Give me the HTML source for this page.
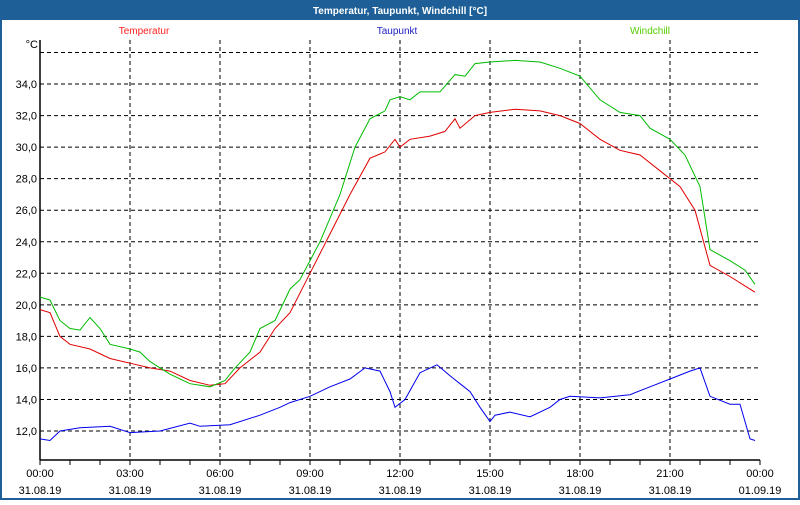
<!DOCTYPE html>
<html><head><meta charset="utf-8"><style>
html,body{margin:0;padding:0;background:#fff;}
body{width:800px;height:500px;overflow:hidden;font-family:"Liberation Sans","DejaVu Sans",sans-serif;}
</style></head><body>
<svg id="s" width="800" height="500" xmlns="http://www.w3.org/2000/svg" font-family="Liberation Sans, DejaVu Sans, sans-serif">
<rect x="0" y="0" width="800" height="500" fill="#1d5f96"/>
<rect x="2" y="20" width="796" height="478" fill="#fff"/>
<text x="400" y="14" fill="#fff" font-size="10" font-weight="bold" text-anchor="middle">Temperatur, Taupunkt, Windchill [°C]</text>
<text x="144" y="34" fill="#ff2020" font-size="10" text-anchor="middle">Temperatur</text>
<text x="397" y="34" fill="#2020c0" font-size="10" text-anchor="middle">Taupunkt</text>
<text x="650" y="34" fill="#55cc00" font-size="10" text-anchor="middle">Windchill</text>
<text x="38" y="48" fill="#000" font-size="11" text-anchor="end">°C</text>
<g id="g"></g>
</svg>
<script>
var g=document.getElementById('g'),h='';
function Y(v){return 431-(v-12)*15.77;}
for(var v=12;v<=36;v+=2){var y=Y(v);h+='<line x1="40" y1="'+y+'" x2="760" y2="'+y+'" stroke="#000" stroke-dasharray="4,3"/>';
if(v<36)h+='<text x="37" y="'+(y+4)+'" font-size="11" text-anchor="end">'+v+',0</text>';}
var lab=['00:00','03:00','06:00','09:00','12:00','15:00','18:00','21:00','00:00'];
for(var i=0;i<=24;i++){var x=40+i*30;h+='<line x1="'+x+'" y1="460" x2="'+x+'" y2="465" stroke="#000"/>';
if(i%3==0){var k=i/3;if(i>0&&i<24)h+='<line x1="'+x+'" y1="40" x2="'+x+'" y2="460" stroke="#000" stroke-dasharray="4,3"/>';
h+='<text x="'+x+'" y="477" font-size="11" text-anchor="middle">'+lab[k]+'</text><text x="'+x+'" y="494" font-size="11" text-anchor="middle">'+(i==24?'01.09.19':'31.08.19')+'</text>';}}
h+='<line x1="40" y1="40" x2="40" y2="460" stroke="#000" stroke-width="1.5"/><line x1="40" y1="460" x2="760" y2="460" stroke="#000" stroke-width="1.5"/>';
function P(d,c){var p=[];for(var i=0;i<d.length;i+=2)p.push(d[i]+','+Y(d[i+1]).toFixed(1));h+='<polyline fill="none" stroke="'+c+'" stroke-width="1" points="'+p.join(' ')+'"/>';}
P([40,19.7,50,19.5,60,18,70,17.5,90,17.2,110,16.6,130,16.3,150,16,170,15.8,190,15.2,210,14.9,225,15,240,16,260,17,275,18.5,290,19.5,310,22,330,24.5,350,27,370,29.3,385,29.7,395,30.5,400,30,410,30.5,430,30.7,445,31,455,31.8,460,31.2,475,32,490,32.2,515,32.4,540,32.3,560,32,580,31.5,600,30.5,620,29.8,640,29.5,660,28.5,680,27.5,695,26,710,22.5,730,21.8,745,21.2,755,20.8],'#e00000');
P([40,20.5,50,20.3,60,19,70,18.5,80,18.4,90,19.2,100,18.5,110,17.5,130,17.2,140,17,150,16.4,170,15.6,190,15,210,14.8,225,15.2,235,16,250,17,260,18.5,275,19,290,21,300,21.6,320,24,340,27,355,30,370,31.8,385,32.3,390,33,400,33.2,410,33,420,33.5,440,33.5,455,34.6,465,34.5,475,35.3,490,35.4,515,35.5,540,35.4,560,35,580,34.5,600,33,620,32.2,640,32,650,31.2,670,30.5,685,29.5,700,27.5,710,23.5,730,22.8,745,22.2,755,21.3],'#00bb00');
P([40,11.5,50,11.4,60,12,80,12.2,110,12.3,130,11.9,160,12,190,12.5,200,12.3,230,12.4,260,13,280,13.5,290,13.8,310,14.2,330,14.8,350,15.3,365,16,380,15.8,390,14.5,395,13.5,405,14,420,15.7,437,16.2,450,15.5,460,15,470,14.5,480,13.5,490,12.6,495,13,510,13.2,530,12.9,550,13.5,560,14,570,14.2,600,14.1,630,14.3,650,14.8,670,15.3,690,15.8,700,16,710,14.2,730,13.7,740,13.7,750,11.5,755,11.4],'#0000ee');
g.innerHTML=h;
</script>
</body></html>
